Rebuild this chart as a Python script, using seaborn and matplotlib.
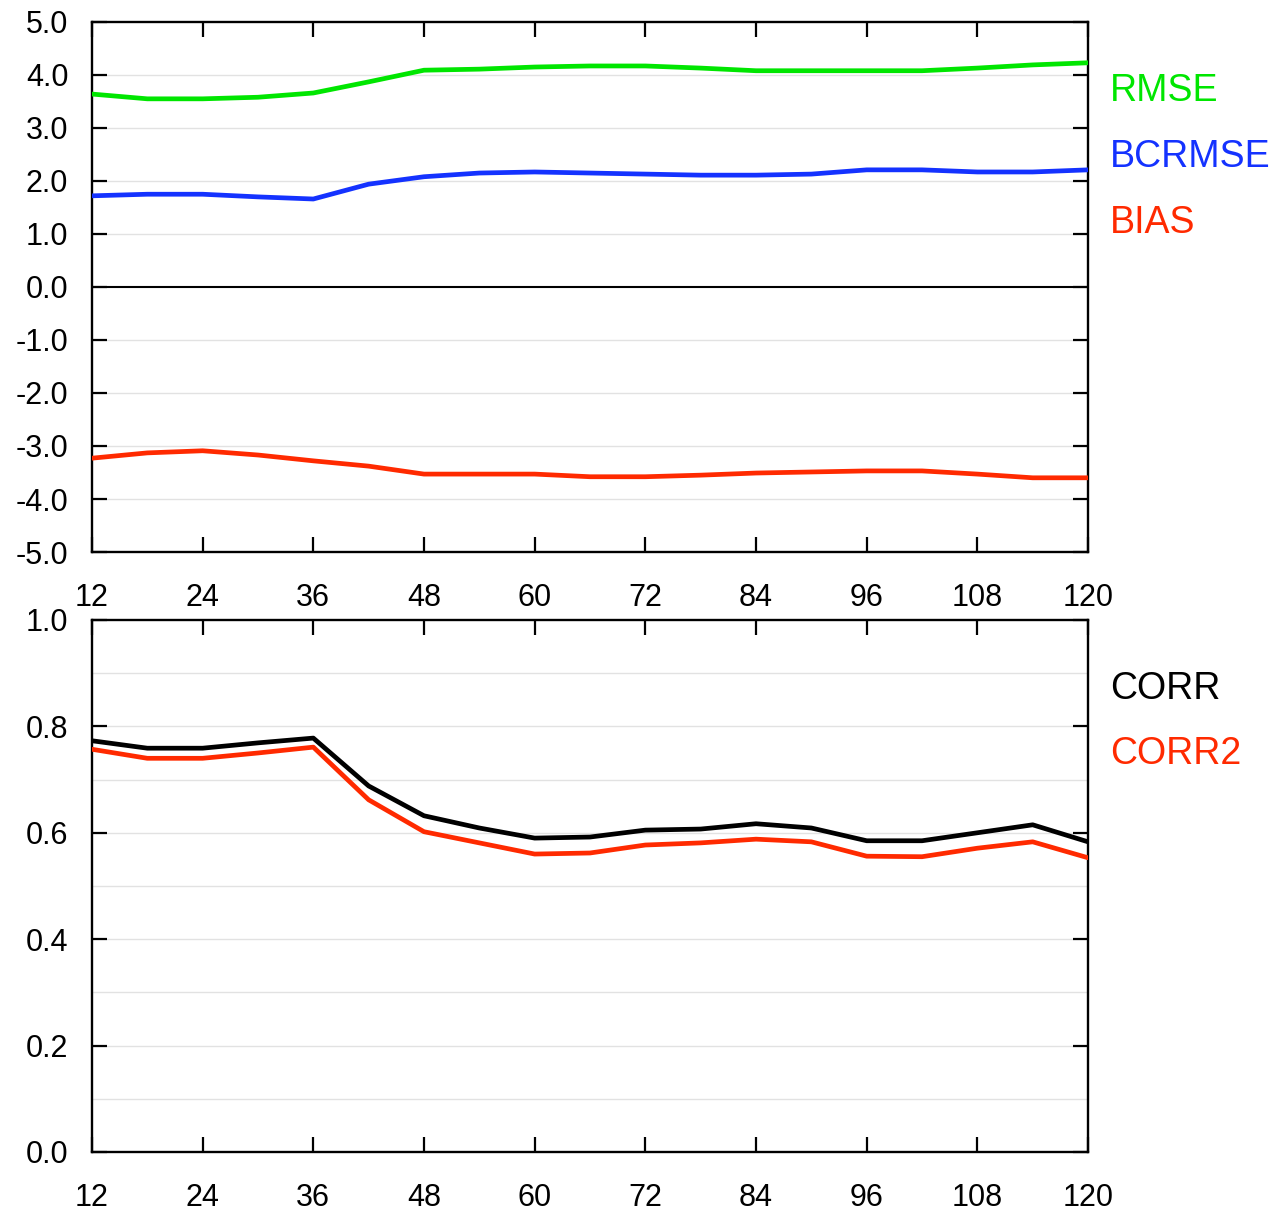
import numpy as np
import pandas as pd
import matplotlib
matplotlib.use('Agg')
import matplotlib.pyplot as plt
import seaborn as sns

# ─── 数据 ───
lead = [12, 18, 24, 30, 36, 42, 48, 54, 60, 66, 72, 78, 84, 90, 96, 102, 108, 114, 120]

rmse = [3.64, 3.55, 3.55, 3.58, 3.66, 3.87, 4.09, 4.11, 4.15, 4.17, 4.17, 4.13,
        4.08, 4.08, 4.08, 4.08, 4.13, 4.19, 4.23]
bcrmse = [1.72, 1.75, 1.75, 1.70, 1.66, 1.94, 2.08, 2.15, 2.17, 2.15, 2.13, 2.11,
          2.11, 2.13, 2.21, 2.21, 2.17, 2.17, 2.21]
bias = [-3.23, -3.13, -3.09, -3.17, -3.28, -3.38, -3.53, -3.53, -3.53, -3.58, -3.58,
        -3.55, -3.51, -3.49, -3.47, -3.47, -3.53, -3.60, -3.60]

corr = [0.773, 0.759, 0.759, 0.769, 0.778, 0.688, 0.632, 0.609, 0.590, 0.592, 0.605,
        0.607, 0.617, 0.609, 0.585, 0.585, 0.600, 0.615, 0.583]
corr2 = [0.757, 0.740, 0.740, 0.750, 0.761, 0.662, 0.602, 0.581, 0.560, 0.562, 0.577,
         0.581, 0.588, 0.583, 0.556, 0.555, 0.571, 0.583, 0.553]

top_names = ['RMSE', 'BCRMSE', 'BIAS']
bot_names = ['CORR', 'CORR2']
colors = {'RMSE': '#00e600', 'BCRMSE': '#1432ff', 'BIAS': '#ff2a00',
          'CORR': '#000000', 'CORR2': '#ff2a00'}

df_top = pd.DataFrame({'lead': lead * 3,
                       'value': rmse + bcrmse + bias,
                       'name': np.repeat(top_names, len(lead))})
df_bot = pd.DataFrame({'lead': lead * 2,
                       'value': corr + corr2,
                       'name': np.repeat(bot_names, len(lead))})

# ─── 全局设置 ───
sns.set_style('white')
plt.rcParams['font.family'] = ['Liberation Sans', 'DejaVu Sans']
plt.rcParams['text.color'] = 'black'
plt.rcParams['xtick.color'] = 'black'
plt.rcParams['ytick.color'] = 'black'

fig = plt.figure(figsize=(12.79, 12.14), dpi=100)
ax1 = fig.add_axes([0.0719, 0.5453, 0.7788, 0.4366])
ax2 = fig.add_axes([0.0719, 0.0511, 0.7788, 0.4382])

xticks = list(range(12, 121, 12))


def style_axis(ax):
    ax.set_xlim(12, 120)
    ax.set_xticks(xticks)
    ax.tick_params(direction='in', length=11, width=1.6, labelsize=22,
                   top=True, right=True, bottom=True, left=True,
                   color='black', labelcolor='black')
    ax.tick_params(axis='x', pad=22)
    ax.tick_params(axis='y', pad=17)
    for s in ax.spines.values():
        s.set_linewidth(1.7)
        s.set_color('black')
    ax.set_xlabel('')
    ax.set_ylabel('')


# ─── 上图 ───
for y in [-4, -3, -2, -1, 1, 2, 3, 4]:
    ax1.axhline(y, color='#e2e2e2', lw=1.0, zorder=0)
ax1.axhline(0, color='black', lw=1.5, zorder=1)
sns.lineplot(data=df_top, x='lead', y='value', hue='name', palette=colors,
             hue_order=top_names, lw=3.4, ax=ax1, legend=False, zorder=3)
ax1.set_ylim(-5, 5)
ax1.set_yticks(np.arange(-5, 5.1, 1))
ax1.set_yticklabels([f'{v:.1f}' for v in np.arange(-5, 5.1, 1)])
style_axis(ax1)

for name, ypix in zip(top_names, [91, 157, 223]):
    fig.text(1110 / 1279, 1 - ypix / 1214, name, color=colors[name],
             fontsize=27, va='center', ha='left')

# ─── 下图 ───
for y in np.arange(0.1, 1.0, 0.1):
    ax2.axhline(y, color='#e2e2e2', lw=1.0, zorder=0)
sns.lineplot(data=df_bot, x='lead', y='value', hue='name', palette=colors,
             hue_order=bot_names, lw=3.4, ax=ax2, legend=False, zorder=3)
ax2.set_ylim(0, 1)
ax2.set_yticks(np.arange(0, 1.01, 0.2))
ax2.set_yticklabels([f'{v:.1f}' for v in np.arange(0, 1.01, 0.2)])
style_axis(ax2)

for name, ypix in zip(bot_names, [689, 754]):
    fig.text(1110 / 1279, 1 - ypix / 1214, name, color=colors[name],
             fontsize=27, va='center', ha='left')

plt.savefig('out.png', dpi=100)
plt.close()
